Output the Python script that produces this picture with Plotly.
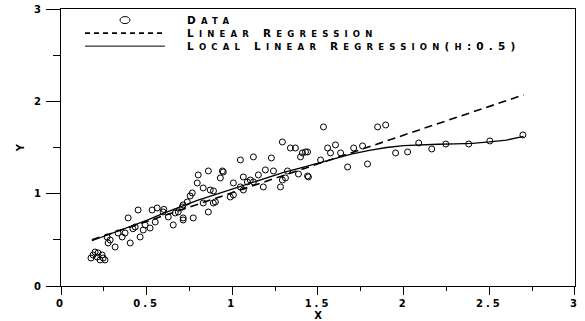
import plotly.graph_objects as go

# ---- data ----
data_x = [0.175, 0.199, 0.216, 0.211, 0.240, 0.246, 0.257, 0.228, 0.187, 0.275,
          0.287, 0.316, 0.333, 0.357, 0.374, 0.404, 0.392, 0.450, 0.462, 0.480,
          0.433, 0.491, 0.520, 0.532, 0.550, 0.561, 0.596, 0.626, 0.655, 0.667,
          0.684, 0.708, 0.713, 0.420, 0.269,
          1.047, 0.860, 0.942, 0.801, 0.930, 0.795, 0.830, 0.766, 0.754, 0.871,
          0.890, 1.006, 1.064, 1.047, 1.064, 1.088, 1.006, 0.988, 0.901, 0.889,
          0.830, 0.737, 0.713, 0.860, 0.772, 0.713, 0.600,
          1.292, 1.339, 1.368, 1.427, 1.398, 1.123, 1.228, 1.193, 1.240, 1.152,
          1.322, 1.386, 1.444, 0.947, 1.292, 1.310, 1.281, 1.181, 1.123, 1.105,
          1.532, 1.848, 1.895, 1.439, 1.409, 1.556, 1.602, 1.573, 1.632, 1.708,
          1.760, 1.953, 1.789, 1.673, 1.439, 1.515,
          2.023, 2.088, 2.164, 2.246, 2.380, 2.503, 2.696]
data_y = [0.303, 0.368, 0.358, 0.314, 0.336, 0.303, 0.282, 0.282, 0.336, 0.466,
          0.498, 0.423, 0.574, 0.531, 0.574, 0.466, 0.737, 0.823, 0.531, 0.607,
          0.639, 0.661, 0.628, 0.823, 0.693, 0.845, 0.802, 0.748, 0.661, 0.791,
          0.802, 0.856, 0.715, 0.620, 0.531,
          1.365, 1.246, 1.246, 1.203, 1.170, 1.116, 1.062, 1.008, 0.975, 1.040,
          1.030, 1.116, 1.181, 1.073, 1.040, 1.127, 0.986, 0.964, 0.910, 0.899,
          0.899, 0.910, 0.878, 0.802, 0.737, 0.737, 0.830,
          1.560, 1.495, 1.495, 1.452, 1.398, 1.398, 1.387, 1.257, 1.246, 1.203,
          1.246, 1.213, 1.181, 1.235, 1.148, 1.170, 1.073, 1.073, 1.127, 1.148,
          1.723, 1.723, 1.744, 1.452, 1.441, 1.495, 1.528, 1.441, 1.441, 1.495,
          1.517, 1.441, 1.322, 1.289, 1.192, 1.365,
          1.452, 1.549, 1.484, 1.538, 1.538, 1.571, 1.636]

lin_x = [0.18, 2.70]
lin_y = [0.50, 2.07]

loc_x = [0.18, 0.3, 0.4, 0.5, 0.6, 0.7, 0.8, 0.9, 1.0, 1.1, 1.2, 1.3, 1.4,
         1.5, 1.6, 1.7, 1.8, 1.9, 2.0, 2.1, 2.2, 2.3, 2.4, 2.5, 2.6, 2.7]
loc_y = [0.49, 0.57, 0.64, 0.71, 0.79, 0.86, 0.93, 0.99, 1.05, 1.11, 1.17,
         1.23, 1.28, 1.33, 1.38, 1.43, 1.47, 1.50, 1.52, 1.53, 1.535, 1.54,
         1.545, 1.56, 1.58, 1.62]

x_ticks = [0, 0.5, 1, 1.5, 2, 2.5, 3]
x_tick_labels = ["0", "0.5", "1", "1.5", "2", "2.5", "3"]
y_ticks = [0, 1, 2, 3]
y_tick_labels = ["0", "1", "2", "3"]

legend_labels = ["Data", "Linear Regression", "Local Linear Regression(h:0.5)"]

FONT = "DejaVu Sans"
LS = 5.2  # letter spacing of the wide legend lettering


def small_caps(s, small_size, ls):
    """Render text as small caps: lowercase letters become smaller capitals."""
    runs, cur, cur_small = [], "", None
    for ch in s:
        is_small = ch.islower()
        if cur_small is None or is_small == cur_small:
            cur += ch
        else:
            runs.append((cur, cur_small))
            cur = ch
        cur_small = is_small
    if cur:
        runs.append((cur, cur_small))
    out = ""
    for txt, sm in runs:
        if sm:
            out += ('<span style="font-size:%spx;letter-spacing:%spx">%s</span>'
                    % (small_size, ls, txt.upper()))
        else:
            out += '<span style="letter-spacing:%spx">%s</span>' % (ls, txt)
    return out


def spaced(s, ls):
    return '<span style="letter-spacing:%spx">%s</span>' % (ls, s)


# ---- figure ----
fig = go.Figure()
fig.add_trace(go.Scatter(x=data_x, y=data_y, mode="markers", name=legend_labels[0],
                         marker=dict(symbol="circle-open", size=6, color="black",
                                     line=dict(width=1, color="black")),
                         showlegend=False))
fig.add_trace(go.Scatter(x=lin_x, y=lin_y, mode="lines", name=legend_labels[1],
                         line=dict(color="black", width=1.6, dash="8px,5px"),
                         showlegend=False))
fig.add_trace(go.Scatter(x=loc_x, y=loc_y, mode="lines", name=legend_labels[2],
                         line=dict(color="black", width=1.3),
                         showlegend=False))

# legend drawn in paper coordinates (plot box: x 61..575 px, y 9..286 px)
row_y = [0.960, 0.913, 0.866]
fig.add_shape(type="circle", xref="paper", yref="paper",
              xsizemode="pixel", ysizemode="pixel",
              xanchor=0.1245, yanchor=row_y[0], x0=-5, x1=5, y0=-3.5, y1=3.5,
              line=dict(color="black", width=1))
fig.add_shape(type="line", xref="paper", yref="paper", x0=0.0467, x1=0.2023,
              y0=row_y[1], y1=row_y[1], line=dict(color="black", width=1.6, dash="5px,4px"))
fig.add_shape(type="line", xref="paper", yref="paper", x0=0.0467, x1=0.2023,
              y0=row_y[2], y1=row_y[2], line=dict(color="black", width=1))
for lab, yy in zip(legend_labels, row_y):
    fig.add_annotation(xref="paper", yref="paper", x=0.241, y=yy, xanchor="left",
                       yanchor="middle", showarrow=False,
                       text=small_caps(lab, 8.5, LS),
                       font=dict(family=FONT, size=10.5, color="black", weight="bold"))

axis_common = dict(showline=True, linecolor="black", linewidth=1, mirror=True,
                   showgrid=False, zeroline=False, ticks="outside", tickcolor="black",
                   tickwidth=1, automargin=False,
                   tickfont=dict(family=FONT, size=10, color="black", weight="bold"))

fig.update_xaxes(**axis_common, range=[0, 3.0001], tickvals=x_ticks,
                 ticktext=[spaced(t, 3) for t in x_tick_labels], ticklen=8,
                 minor=dict(dtick=0.25, ticks="outside", ticklen=4, tickcolor="black"),
                 title=dict(text="X", standoff=5,
                            font=dict(family=FONT, size=10, color="black", weight="bold")))
fig.update_yaxes(**axis_common, range=[0, 3.0001], tickvals=y_ticks,
                 ticktext=[spaced(t, 3) for t in y_tick_labels], ticklen=14,
                 minor=dict(dtick=0.5, ticks="outside", ticklen=7, tickcolor="black"),
                 title=dict(text="Y", standoff=7,
                            font=dict(family=FONT, size=10, color="black", weight="bold")))

fig.update_layout(width=585, height=321, margin=dict(l=61, r=10, t=9, b=35),
                  paper_bgcolor="white", plot_bgcolor="white", showlegend=False)

fig.write_html("out.html", config={"displayModeBar": False},
               post_script="document.body.style.margin='0';document.body.style.overflow='hidden';")
